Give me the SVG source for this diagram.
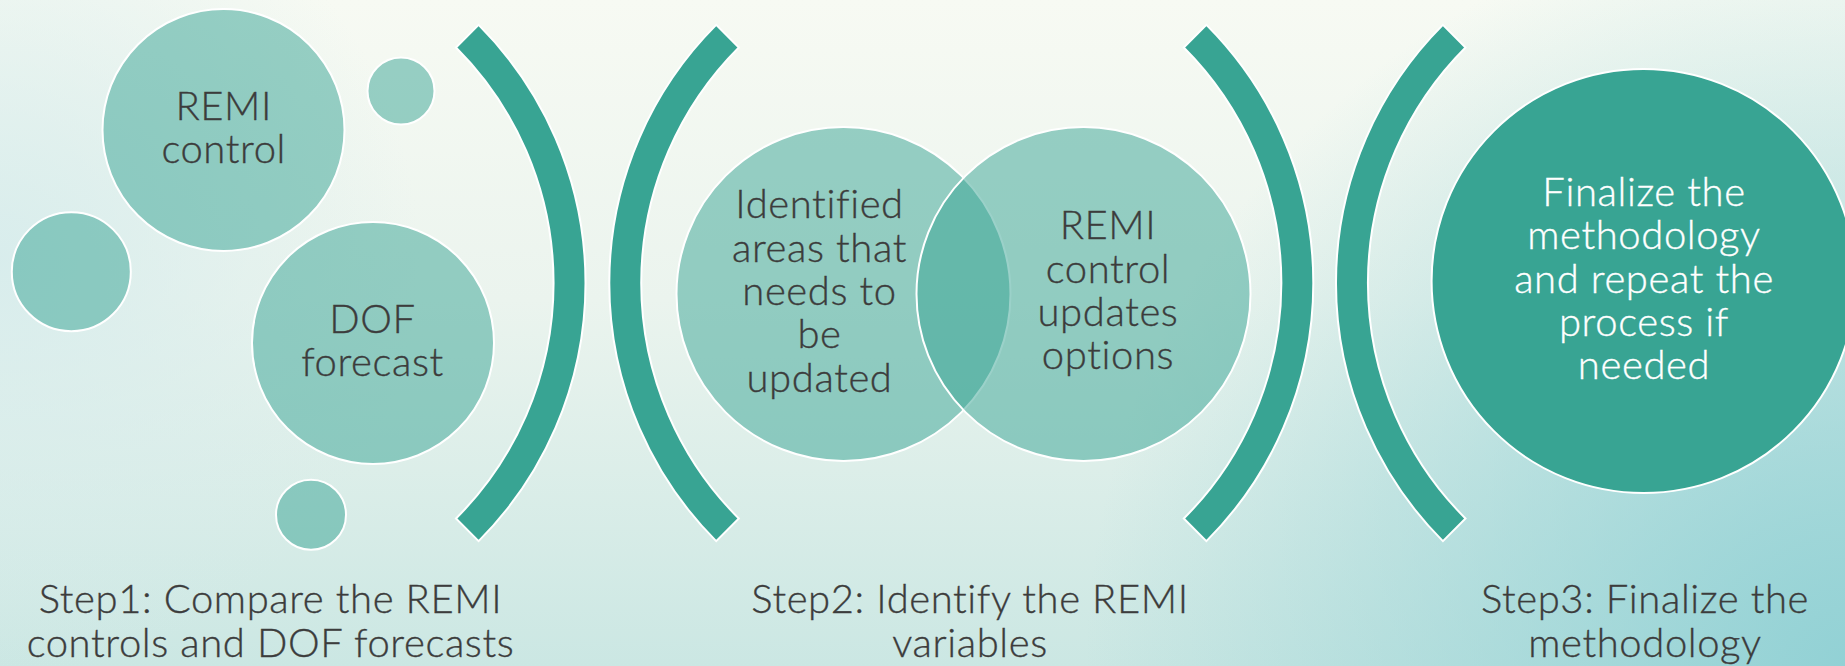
<svg xmlns="http://www.w3.org/2000/svg" width="1845" height="666" viewBox="0 0 1845 666">
  <defs>
    <style>
      .t{font-family:Lato,"Open Sans","Liberation Sans",sans-serif;font-size:40px;font-weight:300;letter-spacing:0.6px;fill:#3c3c3c;stroke:#3c3c3c;stroke-width:0.35px;text-anchor:middle}
      .w{fill:#ffffff;stroke:#ffffff}
      .soft{fill:#38a493;fill-opacity:.5;stroke:#ffffff;stroke-width:2}
      .solid{fill:#38a493;stroke:#ffffff;stroke-width:2}
      .arc{fill:#38a493;stroke:#ffffff;stroke-width:2;stroke-linejoin:miter}
    </style>
    <linearGradient id="bgV" x1="0" y1="0" x2="0" y2="1">
      <stop offset="0" stop-color="#f7faf3"/>
      <stop offset="0.45" stop-color="#ebf4ee"/>
      <stop offset="1" stop-color="#cbe7e3"/>
    </linearGradient>
    <radialGradient id="bgBR" cx="1845" cy="666" r="760" gradientUnits="userSpaceOnUse">
      <stop offset="0" stop-color="#8fd0d4" stop-opacity="0.95"/>
      <stop offset="1" stop-color="#8fd0d4" stop-opacity="0"/>
    </radialGradient>
    <radialGradient id="bgL" cx="0" cy="260" r="420" gradientUnits="userSpaceOnUse">
      <stop offset="0" stop-color="#d6ecec" stop-opacity="0.9"/>
      <stop offset="1" stop-color="#d6ecec" stop-opacity="0"/>
    </radialGradient>
  </defs>

  <!-- backdrop -->
  <rect width="1845" height="666" fill="url(#bgV)"/>
  <rect width="1845" height="666" fill="url(#bgL)"/>
  <rect width="1845" height="666" fill="url(#bgBR)"/>

  <!-- curved dividers between the steps -->
  <g id="brackets">
    <path class="arc" d="M478.6 24.9 A365 365 0 0 1 478.6 541.1 L456 518.5 A333 333 0 0 0 456 47.5 Z"/>
    <path class="arc" d="M716.2 24.9 A365 365 0 0 0 716.2 541.1 L738.8 518.5 A333 333 0 0 1 738.8 47.5 Z"/>
    <path class="arc" d="M1206.4 24.9 A365 365 0 0 1 1206.4 541.1 L1183.8 518.5 A333 333 0 0 0 1183.8 47.5 Z"/>
    <path class="arc" d="M1442.9 24.9 A365 365 0 0 0 1442.9 541.1 L1465.5 518.5 A333 333 0 0 1 1465.5 47.5 Z"/>
  </g>

  <!-- step 1: bubbles -->
  <g id="bubble-left"><circle class="soft" cx="71.3" cy="271.7" r="59.5"/></g>
  <g id="bubble-top"><circle class="soft" cx="401" cy="91" r="33.5"/></g>
  <g id="bubble-bottom"><circle class="soft" cx="311" cy="514.7" r="35"/></g>
  <g id="remi-control">
    <circle class="soft" cx="223.5" cy="130" r="121"/>
    <text class="t" x="223.7" y="120">REMI</text>
    <text class="t" x="223.7" y="163.3">control</text>
  </g>
  <g id="dof-forecast">
    <circle class="soft" cx="373" cy="343" r="121"/>
    <text class="t" x="372.5" y="332.7">DOF</text>
    <text class="t" x="372.5" y="376">forecast</text>
  </g>

  <!-- step 2: overlapping pair -->
  <g id="identified-areas">
    <circle class="soft" cx="843.5" cy="294" r="167"/>
  </g>
  <g id="remi-updates">
    <circle class="soft" cx="1083.5" cy="294" r="167"/>
  </g>
  <g id="venn-labels">
    <text class="t" x="819.5" y="218.3">Identified</text>
    <text class="t" x="819.5" y="261.7">areas that</text>
    <text class="t" x="819.5" y="305">needs to</text>
    <text class="t" x="819.5" y="348.3">be</text>
    <text class="t" x="819.5" y="391.7">updated</text>
    <text class="t" x="1108" y="239.3">REMI</text>
    <text class="t" x="1108" y="282.7">control</text>
    <text class="t" x="1108" y="326">updates</text>
    <text class="t" x="1108" y="369.3">options</text>
  </g>

  <!-- step 3: final circle -->
  <g id="finalize">
    <circle class="solid" cx="1643.6" cy="281" r="212"/>
    <text class="t w" x="1644" y="206">Finalize the</text>
    <text class="t w" x="1644" y="249.3">methodology</text>
    <text class="t w" x="1644" y="292.7">and repeat the</text>
    <text class="t w" x="1644" y="336">process if</text>
    <text class="t w" x="1644" y="379.3">needed</text>
  </g>

  <!-- step captions -->
  <g id="step1-caption">
    <text class="t" x="270.5" y="613.3">Step1: Compare the REMI</text>
    <text class="t" x="270.5" y="656.7">controls and DOF forecasts</text>
  </g>
  <g id="step2-caption">
    <text class="t" x="970" y="613.3">Step2: Identify the REMI</text>
    <text class="t" x="970" y="656.7">variables</text>
  </g>
  <g id="step3-caption">
    <text class="t" x="1645" y="613.3">Step3: Finalize the</text>
    <text class="t" x="1645" y="656.7">methodology</text>
  </g>
</svg>
